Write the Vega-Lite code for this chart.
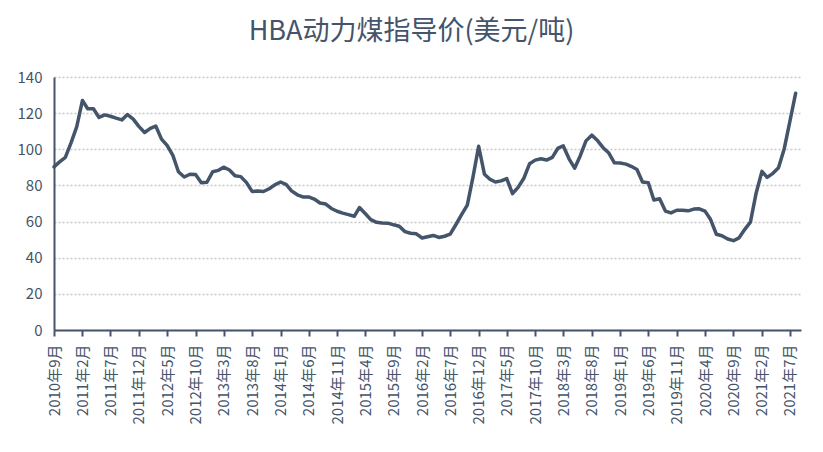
{
  "$schema": "https://vega.github.io/schema/vega-lite/v6.json",
  "width": 747,
  "height": 253,
  "autosize": "none",
  "padding": {"left": 54, "top": 77, "right": 22, "bottom": 122},
  "background": "white",
  "title": {
    "text": "HBA动力煤指导价(美元/吨)",
    "font": "Noto Sans CJK SC",
    "fontSize": 27,
    "fontWeight": "normal",
    "color": "#44546A",
    "anchor": "middle",
    "frame": "group",
    "dx": -16,
    "baseline": "alphabetic",
    "offset": 3
  },
  "data": {
    "values": [
      {"month": "2010-09-01", "price": 90.3},
      {"month": "2010-10-01", "price": 93.0},
      {"month": "2010-11-01", "price": 95.5},
      {"month": "2010-12-01", "price": 103.4},
      {"month": "2011-01-01", "price": 112.4},
      {"month": "2011-02-01", "price": 127.05},
      {"month": "2011-03-01", "price": 122.42},
      {"month": "2011-04-01", "price": 122.41},
      {"month": "2011-05-01", "price": 117.61},
      {"month": "2011-06-01", "price": 119.03},
      {"month": "2011-07-01", "price": 118.27},
      {"month": "2011-08-01", "price": 117.21},
      {"month": "2011-09-01", "price": 116.27},
      {"month": "2011-10-01", "price": 119.24},
      {"month": "2011-11-01", "price": 116.65},
      {"month": "2011-12-01", "price": 112.67},
      {"month": "2012-01-01", "price": 109.29},
      {"month": "2012-02-01", "price": 111.58},
      {"month": "2012-03-01", "price": 112.87},
      {"month": "2012-04-01", "price": 105.61},
      {"month": "2012-05-01", "price": 102.12},
      {"month": "2012-06-01", "price": 96.65},
      {"month": "2012-07-01", "price": 87.56},
      {"month": "2012-08-01", "price": 84.65},
      {"month": "2012-09-01", "price": 86.21},
      {"month": "2012-10-01", "price": 86.04},
      {"month": "2012-11-01", "price": 81.44},
      {"month": "2012-12-01", "price": 81.75},
      {"month": "2013-01-01", "price": 87.55},
      {"month": "2013-02-01", "price": 88.35},
      {"month": "2013-03-01", "price": 90.09},
      {"month": "2013-04-01", "price": 88.56},
      {"month": "2013-05-01", "price": 85.33},
      {"month": "2013-06-01", "price": 84.87},
      {"month": "2013-07-01", "price": 81.69},
      {"month": "2013-08-01", "price": 76.7},
      {"month": "2013-09-01", "price": 76.89},
      {"month": "2013-10-01", "price": 76.61},
      {"month": "2013-11-01", "price": 78.19},
      {"month": "2013-12-01", "price": 80.31},
      {"month": "2014-01-01", "price": 81.9},
      {"month": "2014-02-01", "price": 80.44},
      {"month": "2014-03-01", "price": 77.01},
      {"month": "2014-04-01", "price": 74.81},
      {"month": "2014-05-01", "price": 73.6},
      {"month": "2014-06-01", "price": 73.64},
      {"month": "2014-07-01", "price": 72.45},
      {"month": "2014-08-01", "price": 70.29},
      {"month": "2014-09-01", "price": 69.69},
      {"month": "2014-10-01", "price": 67.26},
      {"month": "2014-11-01", "price": 65.7},
      {"month": "2014-12-01", "price": 64.65},
      {"month": "2015-01-01", "price": 63.84},
      {"month": "2015-02-01", "price": 62.92},
      {"month": "2015-03-01", "price": 67.76},
      {"month": "2015-04-01", "price": 64.48},
      {"month": "2015-05-01", "price": 61.08},
      {"month": "2015-06-01", "price": 59.59},
      {"month": "2015-07-01", "price": 59.16},
      {"month": "2015-08-01", "price": 59.14},
      {"month": "2015-09-01", "price": 58.21},
      {"month": "2015-10-01", "price": 57.39},
      {"month": "2015-11-01", "price": 54.43},
      {"month": "2015-12-01", "price": 53.51},
      {"month": "2016-01-01", "price": 53.2},
      {"month": "2016-02-01", "price": 50.92},
      {"month": "2016-03-01", "price": 51.62},
      {"month": "2016-04-01", "price": 52.32},
      {"month": "2016-05-01", "price": 51.2},
      {"month": "2016-06-01", "price": 51.87},
      {"month": "2016-07-01", "price": 53.0},
      {"month": "2016-08-01", "price": 58.37},
      {"month": "2016-09-01", "price": 63.93},
      {"month": "2016-10-01", "price": 69.07},
      {"month": "2016-11-01", "price": 84.89},
      {"month": "2016-12-01", "price": 101.69},
      {"month": "2017-01-01", "price": 86.23},
      {"month": "2017-02-01", "price": 83.32},
      {"month": "2017-03-01", "price": 81.9},
      {"month": "2017-04-01", "price": 82.51},
      {"month": "2017-05-01", "price": 83.81},
      {"month": "2017-06-01", "price": 75.46},
      {"month": "2017-07-01", "price": 78.95},
      {"month": "2017-08-01", "price": 83.97},
      {"month": "2017-09-01", "price": 92.03},
      {"month": "2017-10-01", "price": 93.99},
      {"month": "2017-11-01", "price": 94.8},
      {"month": "2017-12-01", "price": 94.04},
      {"month": "2018-01-01", "price": 95.54},
      {"month": "2018-02-01", "price": 100.69},
      {"month": "2018-03-01", "price": 101.86},
      {"month": "2018-04-01", "price": 94.75},
      {"month": "2018-05-01", "price": 89.53},
      {"month": "2018-06-01", "price": 96.61},
      {"month": "2018-07-01", "price": 104.65},
      {"month": "2018-08-01", "price": 107.83},
      {"month": "2018-09-01", "price": 104.81},
      {"month": "2018-10-01", "price": 100.89},
      {"month": "2018-11-01", "price": 97.9},
      {"month": "2018-12-01", "price": 92.51},
      {"month": "2019-01-01", "price": 92.41},
      {"month": "2019-02-01", "price": 91.8},
      {"month": "2019-03-01", "price": 90.57},
      {"month": "2019-04-01", "price": 88.85},
      {"month": "2019-05-01", "price": 81.86},
      {"month": "2019-06-01", "price": 81.48},
      {"month": "2019-07-01", "price": 71.92},
      {"month": "2019-08-01", "price": 72.67},
      {"month": "2019-09-01", "price": 65.79},
      {"month": "2019-10-01", "price": 64.8},
      {"month": "2019-11-01", "price": 66.27},
      {"month": "2019-12-01", "price": 66.3},
      {"month": "2020-01-01", "price": 65.93},
      {"month": "2020-02-01", "price": 66.89},
      {"month": "2020-03-01", "price": 67.08},
      {"month": "2020-04-01", "price": 65.77},
      {"month": "2020-05-01", "price": 61.11},
      {"month": "2020-06-01", "price": 52.98},
      {"month": "2020-07-01", "price": 52.16},
      {"month": "2020-08-01", "price": 50.34},
      {"month": "2020-09-01", "price": 49.42},
      {"month": "2020-10-01", "price": 51.0},
      {"month": "2020-11-01", "price": 55.71},
      {"month": "2020-12-01", "price": 59.65},
      {"month": "2021-01-01", "price": 75.84},
      {"month": "2021-02-01", "price": 87.79},
      {"month": "2021-03-01", "price": 84.47},
      {"month": "2021-04-01", "price": 86.68},
      {"month": "2021-05-01", "price": 89.74},
      {"month": "2021-06-01", "price": 100.33},
      {"month": "2021-07-01", "price": 115.35},
      {"month": "2021-08-01", "price": 130.99}
    ]
  },
  "mark": {
    "type": "line",
    "color": "#44546A",
    "strokeWidth": 3.5,
    "strokeJoin": "round",
    "strokeCap": "round"
  },
  "encoding": {
    "x": {
      "field": "month",
      "type": "temporal",
      "scale": {
        "type": "utc",
        "nice": false,
        "domain": [
          {"year": 2010, "month": 9, "date": 1, "utc": true},
          {"year": 2021, "month": 8, "date": 30, "utc": true}
        ]
      },
      "axis": {
        "title": null,
        "grid": false,
        "values": [
          {"year": 2010, "month": 9, "date": 1, "utc": true},
          {"year": 2011, "month": 2, "date": 1, "utc": true},
          {"year": 2011, "month": 7, "date": 1, "utc": true},
          {"year": 2011, "month": 12, "date": 1, "utc": true},
          {"year": 2012, "month": 5, "date": 1, "utc": true},
          {"year": 2012, "month": 10, "date": 1, "utc": true},
          {"year": 2013, "month": 3, "date": 1, "utc": true},
          {"year": 2013, "month": 8, "date": 1, "utc": true},
          {"year": 2014, "month": 1, "date": 1, "utc": true},
          {"year": 2014, "month": 6, "date": 1, "utc": true},
          {"year": 2014, "month": 11, "date": 1, "utc": true},
          {"year": 2015, "month": 4, "date": 1, "utc": true},
          {"year": 2015, "month": 9, "date": 1, "utc": true},
          {"year": 2016, "month": 2, "date": 1, "utc": true},
          {"year": 2016, "month": 7, "date": 1, "utc": true},
          {"year": 2016, "month": 12, "date": 1, "utc": true},
          {"year": 2017, "month": 5, "date": 1, "utc": true},
          {"year": 2017, "month": 10, "date": 1, "utc": true},
          {"year": 2018, "month": 3, "date": 1, "utc": true},
          {"year": 2018, "month": 8, "date": 1, "utc": true},
          {"year": 2019, "month": 1, "date": 1, "utc": true},
          {"year": 2019, "month": 6, "date": 1, "utc": true},
          {"year": 2019, "month": 11, "date": 1, "utc": true},
          {"year": 2020, "month": 4, "date": 1, "utc": true},
          {"year": 2020, "month": 9, "date": 1, "utc": true},
          {"year": 2021, "month": 2, "date": 1, "utc": true},
          {"year": 2021, "month": 7, "date": 1, "utc": true}
        ],
        "labelExpr": "utcFormat(datum.value, '%Y年%-m月')",
        "labelAngle": -90,
        "labelFont": "Noto Sans CJK SC",
        "labelFontSize": 15,
        "labelColor": "#44546A",
        "labelPadding": 8,
        "labelOverlap": false,
        "labelFlush": false,
        "domainColor": "#44546A",
        "domainWidth": 2,
        "tickColor": "#44546A",
        "tickWidth": 2,
        "tickSize": 6
      }
    },
    "y": {
      "field": "price",
      "type": "quantitative",
      "scale": {"domain": [0, 140], "nice": false, "zero": true},
      "axis": {
        "title": null,
        "values": [0, 20, 40, 60, 80, 100, 120, 140],
        "ticks": false,
        "labelPadding": 12,
        "labelFont": "Noto Sans CJK SC",
        "labelFontSize": 15,
        "labelColor": "#44546A",
        "domainColor": "#44546A",
        "domainWidth": 2,
        "gridColor": "#C8C8C8",
        "gridDash": [2, 2],
        "gridWidth": 1.3
      }
    }
  },
  "config": {
    "view": {"stroke": null}
  }
}
